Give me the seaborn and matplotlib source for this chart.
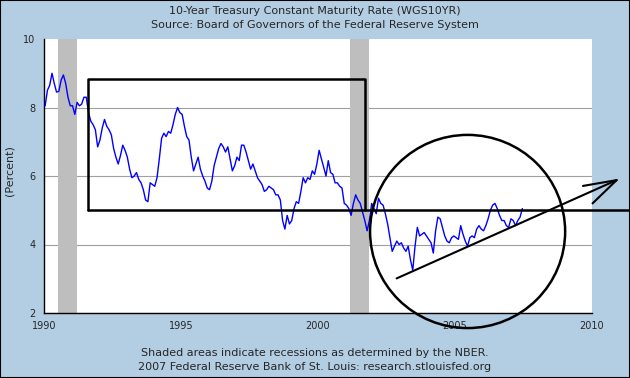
import numpy as np
import pandas as pd
import matplotlib
matplotlib.use('Agg')
import matplotlib.pyplot as plt
from matplotlib.patches import Ellipse, Rectangle
import seaborn as sns

# monthly 10-year treasury rate (percent), Jan 1990 - Jun 2007
rate_1990s = [
    8.05, 8.50, 8.65, 9.00, 8.70, 8.45, 8.47, 8.80, 8.95, 8.70, 8.30, 8.05,  # 1990
    8.05, 7.80, 8.15, 8.05, 8.10, 8.30, 8.30, 7.85, 7.60, 7.50, 7.35, 6.85,  # 1991
    7.05, 7.40, 7.65, 7.45, 7.35, 7.20, 6.80, 6.55, 6.35, 6.60, 6.90, 6.75,  # 1992
    6.55, 6.20, 5.95, 6.00, 6.10, 5.90, 5.80, 5.60, 5.30, 5.25, 5.80, 5.75,  # 1993
    5.70, 5.95, 6.50, 7.10, 7.25, 7.15, 7.30, 7.25, 7.50, 7.80, 8.00, 7.85,  # 1994
    7.80, 7.45, 7.15, 7.05, 6.55, 6.15, 6.35, 6.55, 6.20, 6.00, 5.85, 5.65,  # 1995
    5.60, 5.85, 6.30, 6.55, 6.80, 6.95, 6.85, 6.70, 6.85, 6.50, 6.15, 6.30,  # 1996
    6.55, 6.45, 6.90, 6.90, 6.70, 6.45, 6.20, 6.35, 6.15, 5.95, 5.85, 5.75,  # 1997
    5.55, 5.60, 5.70, 5.65, 5.60, 5.45, 5.45, 5.30, 4.70, 4.45, 4.85, 4.60,  # 1998
    4.70, 5.05, 5.25, 5.20, 5.55, 5.95, 5.80, 5.95, 5.90, 6.15, 6.05, 6.35,  # 1999
]
rate_2000s = [
    6.75, 6.50, 6.25, 6.00, 6.45, 6.10, 6.05, 5.80, 5.80, 5.70, 5.65, 5.20,  # 2000
    5.15, 5.05, 4.85, 5.20, 5.45, 5.30, 5.20, 4.95, 4.70, 4.40, 4.70, 5.20,  # 2001
    5.05, 4.90, 5.35, 5.20, 5.15, 4.90, 4.60, 4.20, 3.80, 3.95, 4.10, 4.00,  # 2002
    4.05, 3.90, 3.80, 3.95, 3.55, 3.25, 3.95, 4.50, 4.25, 4.30, 4.35, 4.25,  # 2003
    4.15, 4.05, 3.75, 4.40, 4.80, 4.75, 4.50, 4.25, 4.10, 4.05, 4.20, 4.25,  # 2004
    4.20, 4.15, 4.55, 4.30, 4.10, 3.95, 4.20, 4.25, 4.20, 4.45, 4.55, 4.45,  # 2005
    4.40, 4.55, 4.75, 5.00, 5.15, 5.20, 5.05, 4.85, 4.70, 4.70, 4.55, 4.50,  # 2006
    4.75, 4.70, 4.55, 4.70, 4.80, 5.05,                                      # 2007
]

# NBER recessions (decimal years)
recession_start = [1990.5, 2001.17]
recession_end = [1991.21, 2001.86]

x_ticks = [1990, 1995, 2000, 2005, 2010]
y_ticks = [2, 4, 6, 8, 10]

title_lines = ['10-Year Treasury Constant Maturity Rate (WGS10YR)',
               'Source: Board of Governors of the Federal Reserve System']
footer_lines = ['Shaded areas indicate recessions as determined by the NBER.',
                '2007 Federal Reserve Bank of St. Louis: research.stlouisfed.org']

rates = rate_1990s + rate_2000s
# mid-month position of each observation as a decimal year
df = pd.DataFrame({'year': 1990 + np.arange(len(rates)) / 12 + 0.5 / 12, 'rate': rates})

sns.set_style('white')
plt.rcParams['font.family'] = ['DejaVu Sans']

bg = '#B3CDE3'
fig = plt.figure(figsize=(6.3, 3.78), dpi=100, facecolor=bg)
ax = fig.add_axes([44 / 630, 1 - 313 / 378, 548 / 630, 274 / 378])
ax.set_facecolor('white')

for s, e in zip(recession_start, recession_end):
    ax.axvspan(s, e, color='#BEBEBE', lw=0, zorder=1)

sns.lineplot(data=df, x='year', y='rate', color='#0000FF', lw=1, ax=ax, zorder=3)

ax.set_xlim(1990, 2010)
ax.set_ylim(2, 10)
ax.set_xticks(x_ticks)
ax.set_yticks(y_ticks)
ax.set_xlabel('')
ax.set_ylabel('')
ax.grid(axis='y', color='#A0A0A0', lw=0.8, zorder=0)
ax.yaxis.get_gridlines()[-1].set_visible(False)
ax.tick_params(direction='in', length=4, width=1, color='black', labelsize=7, pad=6)
for side in ['top', 'right']:
    ax.spines[side].set_visible(False)
for side in ['left', 'bottom']:
    ax.spines[side].set_color('black')
    ax.spines[side].set_linewidth(1)

# hand-drawn annotations
lw = 1.8
ax.plot([1991.6, 1991.6, 2001.72, 2001.72], [5.0, 8.83, 8.83, 5.0], color='black', lw=lw, clip_on=False, zorder=5)
ax.plot([1991.6, 2011.5], [5.0, 5.0], color='black', lw=lw, clip_on=False, zorder=5)
ax.add_patch(Ellipse((2005.46, 4.38), 7.12, 5.64, fill=False, ec='black', lw=lw, clip_on=False, zorder=5))
ax.plot([2002.87, 2010.9], [3.01, 5.88], color='black', lw=1.5, clip_on=False, zorder=5)
ax.plot([2009.67, 2010.9, 2010.02], [5.71, 5.88, 5.20], color='black', lw=1.5, clip_on=False, zorder=5)

# titles and footer
fig.text(0.5, 1 - 11 / 378, title_lines[0], ha='center', va='center', fontsize=8)
fig.text(0.5, 1 - 25 / 378, title_lines[1], ha='center', va='center', fontsize=8)
fig.text(10 / 630, 1 - 171 / 378, '(Percent)', rotation=90, ha='center', va='center', fontsize=8)
fig.text(0.5, 1 - 353 / 378, footer_lines[0], ha='center', va='center', fontsize=8)
fig.text(0.5, 1 - 367 / 378, footer_lines[1], ha='center', va='center', fontsize=8)

fig.add_artist(Rectangle((0, 0), 1, 1, transform=fig.transFigure, fill=False, ec='black', lw=1.5))

fig.savefig('out.png', dpi=100, facecolor=fig.get_facecolor())
